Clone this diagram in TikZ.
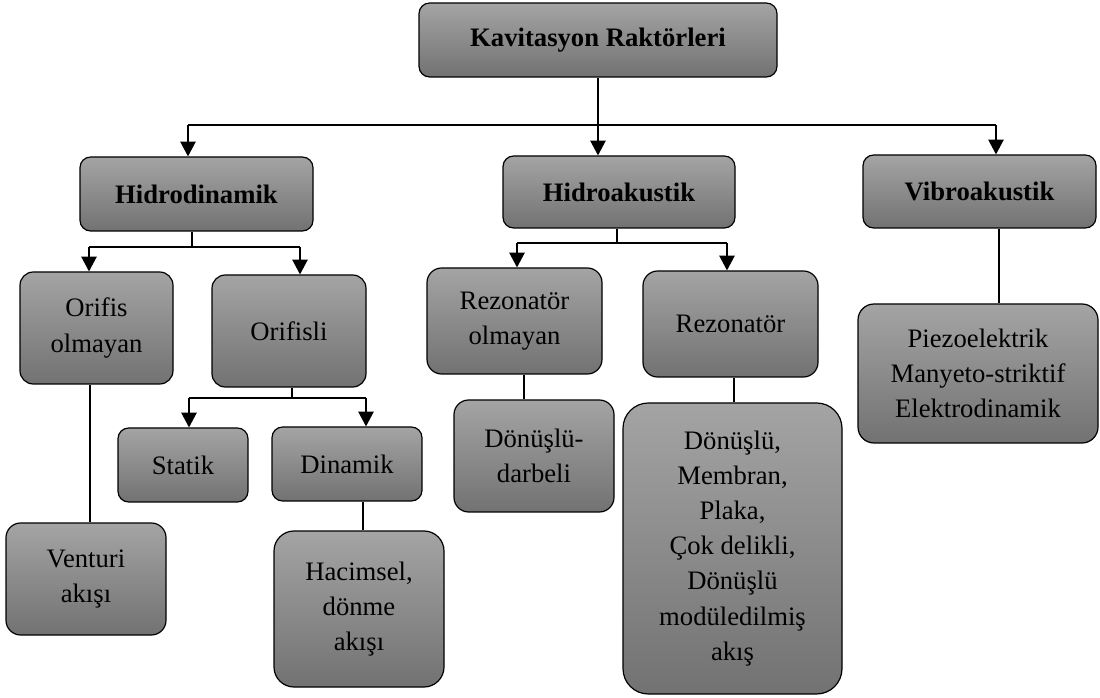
\documentclass[tikz,border=0pt]{standalone}
\usepackage{fontspec}
\setmainfont{Liberation Serif}
\usetikzlibrary{arrows.meta}
\definecolor{gtop}{HTML}{A4A4A4}
\definecolor{gbot}{HTML}{727272}
\tikzset{
  box/.style={draw=black, line width=0.9pt, top color=gtop, bottom color=gbot,
    align=center, inner sep=0pt, font=\fontsize{20}{26.3}\selectfont},
  conn/.style={line width=0.8pt},
  arr/.style={conn, -{Triangle[length=11pt,width=11.5pt]}},
}
\newcommand\mkbox[7]{%
  \node[box, rounded corners=#6, minimum width={(#4-#2)*0.75pt}, minimum height={(#5-#3)*0.75pt}]
    (#1) at ({(#2+#4)/2},{(#3+#5)/2}) {#7};}
\begin{document}
\begin{tikzpicture}[x=0.75pt,y=-0.75pt]
\useasboundingbox (0,0) rectangle (1100,698);
\mkbox{top}{419}{3}{777}{77}{8pt}{\textbf{Kavitasyon Raktörleri}}
\mkbox{hid}{80}{157}{313}{231}{8pt}{\textbf{Hidrodinamik}}
\mkbox{hak}{503}{156}{735}{228}{8pt}{\textbf{Hidroakustik}}
\mkbox{vib}{863}{155}{1096}{228}{8pt}{\textbf{Vibroakustik}}
\mkbox{oo}{20}{272}{173}{384}{10pt}{Orifis\\olmayan}
\mkbox{orf}{212}{275}{366}{387}{10pt}{Orifisli}
\mkbox{ven}{6}{523}{166}{635}{11pt}{Venturi\\akışı}
\mkbox{sta}{118}{428}{248}{502}{8pt}{Statik}
\mkbox{din}{272}{427}{422}{501}{8pt}{Dinamik}
\mkbox{hac}{274}{531}{444}{687}{15pt}{Hacimsel,\\dönme\\akışı}
\mkbox{ro}{427}{268}{602}{374}{11pt}{Rezonatör\\olmayan}
\mkbox{rez}{643}{271}{818}{377}{11pt}{Rezonatör}
\mkbox{dd}{454}{400}{614}{512}{11pt}{Dönüşlü-\\darbeli}
\mkbox{big}{623}{403}{842}{694}{19pt}{Dönüşlü,\\Membran,\\Plaka,\\Çok delikli,\\Dönüşlü\\modüledilmiş\\akış}
\mkbox{pie}{858}{304}{1098}{443}{12pt}{Piezoelektrik\\Manyeto-striktif\\Elektrodinamik}
% level 1
\coordinate (j1) at (598,125);
\coordinate (jL) at (188,125);
\coordinate (jR) at (996,125);
\draw[conn] (top.south) -- (j1);
\draw[conn] (jL) -- (jR);
\draw[arr] (jL) -- (jL |- hid.north);
\draw[arr] (j1) -- (j1 |- hak.north);
\draw[arr] (jR) -- (jR |- vib.north);
% Hidrodinamik
\coordinate (h1) at (192,247);
\coordinate (hL) at (89,247);
\coordinate (hR) at (300,247);
\draw[conn] (h1 |- hid.south) -- (h1);
\draw[conn] (hL) -- (hR);
\draw[arr] (hL) -- (hL |- oo.north);
\draw[arr] (hR) -- (hR |- orf.north);
\coordinate (v1) at (90,0);
\draw[conn] (oo.south -| v1) -- (ven.north -| v1);
% Orifisli
\coordinate (o1) at (292,398);
\coordinate (oL) at (189,398);
\coordinate (oR) at (366,398);
\draw[conn] (o1 |- orf.south) -- (o1);
\draw[conn] (oL) -- (oR);
\draw[arr] (oL) -- (oL |- sta.north);
\draw[arr] (oR) -- (oR |- din.north);
\coordinate (d1) at (363,0);
\draw[conn] (din.south -| d1) -- (hac.north -| d1);
% Hidroakustik
\coordinate (a1) at (617,243);
\coordinate (aL) at (517,243);
\coordinate (aR) at (727,243);
\draw[conn] (a1 |- hak.south) -- (a1);
\draw[conn] (aL) -- (aR);
\draw[arr] (aL) -- (aL |- ro.north);
\draw[arr] (aR) -- (aR |- rez.north);
\coordinate (r1) at (524,0);
\draw[conn] (ro.south -| r1) -- (dd.north -| r1);
\coordinate (r2) at (734,0);
\draw[conn] (rez.south -| r2) -- (big.north -| r2);
% Vibroakustik
\coordinate (w1) at (999,0);
\draw[conn] (vib.south -| w1) -- (pie.north -| w1);
\end{tikzpicture}
\end{document}
